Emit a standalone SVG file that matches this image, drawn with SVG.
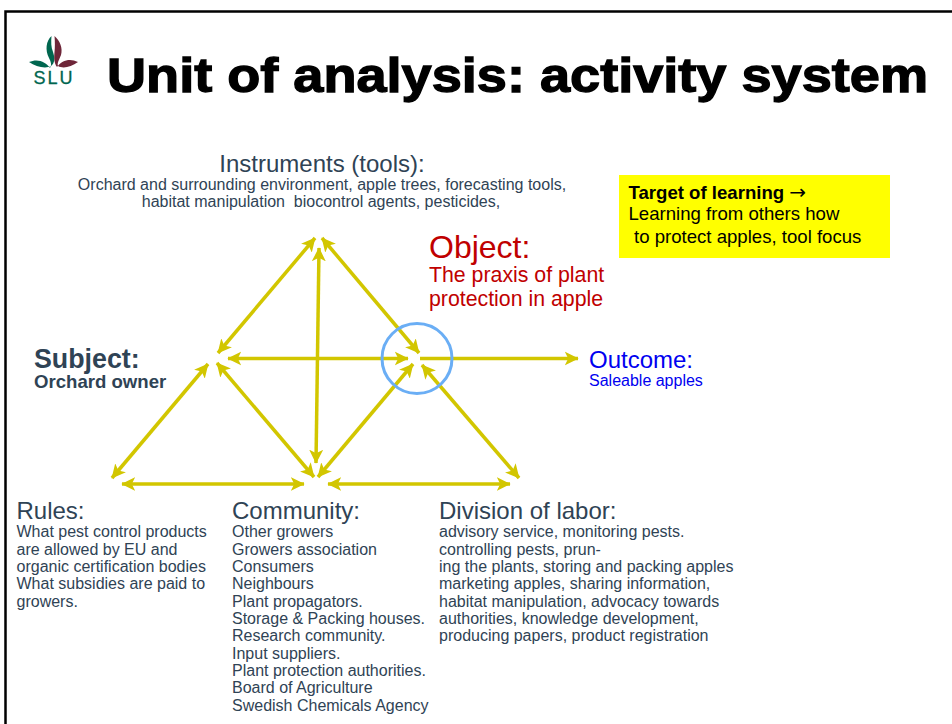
<svg xmlns="http://www.w3.org/2000/svg" width="952" height="724" viewBox="0 0 952 724">
<style>
text{font-family:"Liberation Sans",Arial,sans-serif;fill:#2f4355}
.h{font-size:24px}
.b{font-size:16px}
.c{stroke:#d2c600;stroke-width:3.500;fill:none;marker-start:url(#a);marker-end:url(#a)}
.e{stroke:#d2c600;stroke-width:3.500;fill:none;marker-end:url(#a)}
</style>
<defs>
<marker id="a" viewBox="0 0 10 10" refX="9.500" refY="5" markerWidth="4" markerHeight="4.200" orient="auto-start-reverse" markerUnits="strokeWidth">
<path d="M0 0L10 5L0 10L2.500 5Z" fill="#d2c600"/>
</marker>
</defs>
<rect width="952" height="724" fill="#fff"/>
<path d="M5.500 724V11.500H952" fill="none" stroke="#000" stroke-width="2.500"/>
<g id="logo">
<path d="M51.500 36C46 41 45 50 49 58C51 62 52 65 50 68C46 62 38 58 29 62C36 67 46 69 51 66C55 63 55 58 53 52C51 47 51 42 51.500 36Z" fill="#00664f"/>
<path d="M54.500 36C60 41 63 48 61 55C59 60 57 63 58 66C63 69 71 67 78 62C70 58 62 60 57 67C54 63 54 58 54.500 52C55 47 55 42 54.500 36Z" fill="#6e2639"/>
<text x="33.500" y="84" textLength="39" lengthAdjust="spacing" style="font-size:18px;fill:#00664f;stroke:#00664f;stroke-width:.3">SLU</text>
</g>
<text id="title" x="107" y="92" textLength="821" lengthAdjust="spacingAndGlyphs" style="font-weight:700;font-size:49px;fill:#000;stroke:#000;stroke-width:1.300">Unit of analysis: activity system</text>
<g id="connectors">
<path class="c" d="M315 238L218 353"/>
<path class="c" d="M322 238L419 353"/>
<path class="c" d="M319 248L316 463"/>
<path class="c" d="M228 358.500L408 358.500"/>
<path class="e" d="M420 358.500L578 358.500"/>
<path class="c" d="M217 363L314 477"/>
<path class="c" d="M318 477L413 364"/>
<path class="c" d="M422 365L519 478"/>
<path class="c" d="M208 364L112 478"/>
<path class="c" d="M122 484L304 484"/>
<path class="c" d="M328 484L510 484"/>
</g>
<circle cx="417" cy="358.500" r="35" fill="none" stroke="#6aaef5" stroke-width="3"/>
<g id="instruments">
<text class="h" x="322" y="172" text-anchor="middle">Instruments (tools):</text>
<text class="b" x="322" y="190" text-anchor="middle">Orchard and surrounding environment, apple trees, forecasting tools,</text>
<text class="b" x="321" y="207" text-anchor="middle" xml:space="preserve">habitat manipulation  biocontrol agents, pesticides,</text>
</g>
<g id="target">
<rect x="619" y="175" width="271" height="83" fill="#ff0"/>
<text x="628.500" y="199" style="font-size:18.600px;font-weight:700;fill:#000">Target of learning <tspan style="font-family:'DejaVu Sans',sans-serif;font-weight:400;font-size:20px;fill:#000">→</tspan></text>
<text x="628.500" y="220" style="font-size:18.600px;fill:#000">Learning from others how</text>
<text x="634" y="243" style="font-size:18.600px;fill:#000">to protect apples, tool focus</text>
</g>
<g id="object">
<text x="429" y="258" style="font-size:32px;fill:#c00000">Object:</text>
<text x="429" y="282" style="font-size:21.300px;fill:#c00000">The praxis of plant</text>
<text x="429" y="306" style="font-size:21.300px;fill:#c00000">protection in apple</text>
</g>
<g id="subject">
<text x="34" y="368" style="font-size:26.800px;font-weight:700">Subject:</text>
<text x="34" y="388" style="font-size:18.600px;font-weight:700">Orchard owner</text>
</g>
<g id="outcome">
<text x="589" y="368" style="font-size:24px;fill:#0000f0">Outcome:</text>
<text x="589" y="386" style="font-size:16px;fill:#0000f0">Saleable apples</text>
</g>
<g id="rules">
<text class="h" x="16.500" y="519">Rules:</text>
<text class="b" x="16.500" y="537">What pest control products</text>
<text class="b" x="16.500" y="555">are allowed by EU and</text>
<text class="b" x="16.500" y="572">organic certification bodies</text>
<text class="b" x="16.500" y="589">What subsidies are paid to</text>
<text class="b" x="16.500" y="607">growers.</text>
</g>
<g id="community">
<text class="h" x="232" y="519">Community:</text>
<text class="b" x="232" y="537">Other growers</text>
<text class="b" x="232" y="555">Growers association</text>
<text class="b" x="232" y="572">Consumers</text>
<text class="b" x="232" y="589">Neighbours</text>
<text class="b" x="232" y="607">Plant propagators.</text>
<text class="b" x="232" y="624">Storage &amp; Packing houses.</text>
<text class="b" x="232" y="641">Research community.</text>
<text class="b" x="232" y="659">Input suppliers.</text>
<text class="b" x="232" y="676">Plant protection authorities.</text>
<text class="b" x="232" y="693">Board of Agriculture</text>
<text class="b" x="232" y="711">Swedish Chemicals Agency</text>
</g>
<g id="division">
<text class="h" x="439" y="519">Division of labor:</text>
<text class="b" x="439" y="537">advisory service, monitoring pests.</text>
<text class="b" x="439" y="555">controlling pests, prun-</text>
<text class="b" x="439" y="572">ing the plants, storing and packing apples</text>
<text class="b" x="439" y="589">marketing apples, sharing information,</text>
<text class="b" x="439" y="607">habitat manipulation, advocacy towards</text>
<text class="b" x="439" y="624">authorities, knowledge development,</text>
<text class="b" x="439" y="641">producing papers, product registration</text>
</g>
</svg>
